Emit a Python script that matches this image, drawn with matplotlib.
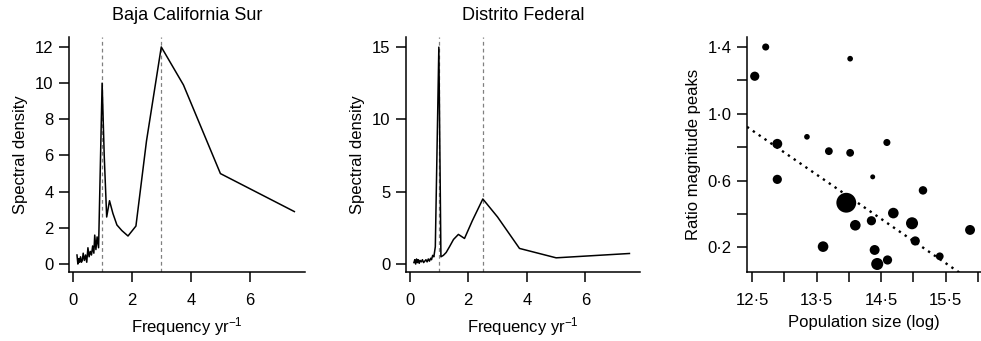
import numpy as np
import matplotlib
matplotlib.use("Agg")
import matplotlib.pyplot as plt
from matplotlib.ticker import FixedLocator, NullFormatter

plt.rcParams['font.family'] = ['Liberation Sans', 'DejaVu Sans']
plt.rcParams['mathtext.default'] = 'regular'

# spectral density, frequency in cycles per year
freq = [0.15, 0.18, 0.21, 0.24, 0.27, 0.30, 0.33, 0.36, 0.40, 0.44, 0.48,
        0.52, 0.56, 0.60, 0.64, 0.68, 0.72, 0.75, 0.79, 0.83, 0.88,
        1.0, 1.071, 1.154, 1.25, 1.364, 1.5, 1.667, 1.875, 2.143, 2.5,
        3.0, 3.75, 5.0, 7.5]
bcs = [0.5, 0.0, 0.3, 0.1, 0.4, 0.1, 0.2, 0.6, 0.2, 0.5, 0.1,
       0.9, 0.4, 0.7, 0.5, 1.0, 0.6, 1.6, 0.8, 1.5, 0.9,
       10.0, 6.0, 2.6, 3.5, 2.8, 2.16, 1.85, 1.55, 2.1, 6.8,
       12.0, 9.9, 5.0, 2.9]
df = [0.1, 0.3, 0.0, 0.35, 0.1, 0.3, 0.05, 0.25, 0.15, 0.3, 0.1,
      0.2, 0.3, 0.15, 0.35, 0.2, 0.4, 0.3, 0.6, 0.5, 1.2,
      15.0, 0.5, 0.6, 0.8, 1.2, 1.7, 2.05, 1.77, 3.0, 4.5,
      3.26, 1.08, 0.43, 0.73]
bcs_peaks = [1.0, 3.0]
df_peaks = [1.0, 2.5]

# ratio of peak magnitudes vs log population size
pop_log = [12.54, 12.71, 14.02, 12.89, 12.89, 13.35, 13.69, 14.02, 14.59, 14.37,
           13.96, 15.15, 14.69, 14.10, 14.35, 14.98, 15.88, 13.60, 15.03, 14.40,
           15.41, 14.44, 14.60]
ratio = [1.225, 1.40, 1.33, 0.82, 0.607, 0.862, 0.776, 0.766, 0.828, 0.622,
         0.467, 0.541, 0.405, 0.332, 0.359, 0.344, 0.304, 0.204, 0.238, 0.184,
         0.146, 0.10, 0.124]
weight = [13, 10, 8, 14, 13, 8, 11, 11, 10, 7,
          28, 12, 15, 15, 13, 17, 14, 15, 13, 14,
          11, 17, 13]
fit_intercept = 4.213
fit_slope = -0.265

W, H = 981, 341
fig = plt.figure(figsize=(W / 100, H / 100), dpi=100)


def make_ax(left, right, top=37, bottom=272):
    ax = fig.add_axes([left / W, 1 - bottom / H, (right - left) / W, (bottom - top) / H])
    for s in ['top', 'right']:
        ax.spines[s].set_visible(False)
    for s in ['left', 'bottom']:
        ax.spines[s].set_linewidth(1.1)
    ax.tick_params(which='both', length=7, width=1.1, labelsize=12)
    ax.tick_params(axis='x', which='both', pad=8)
    ax.tick_params(axis='y', which='both', pad=4)
    return ax


def spectrum(ax, y, peaks, ylim, yticks, title):
    for p in peaks:
        ax.axvline(p, color='#808080', lw=0.9, ls=(0, (3, 2.5)))
    ax.plot(freq, y, color='black', lw=1.1)
    ax.set_xlim(-0.12, 7.86)
    ax.set_ylim(*ylim)
    ax.set_xticks([0, 2, 4, 6])
    ax.set_yticks(yticks)
    ax.set_xlabel('Frequency yr$^{-1}$', fontsize=12, labelpad=5)
    ax.set_ylabel('Spectral density', fontsize=12, labelpad=5)
    ax.set_title(title, fontsize=13, pad=12)


ax1 = make_ax(69, 305)
spectrum(ax1, bcs, bcs_peaks, (-0.44, 12.55), [0, 2, 4, 6, 8, 10, 12], 'Baja California Sur')

ax2 = make_ax(406, 640)
spectrum(ax2, df, df_peaks, (-0.55, 15.7), [0, 5, 10, 15], 'Distrito Federal')

ax3 = make_ax(747, 981)
ax3.scatter(pop_log, ratio, s=np.array(weight) ** 2 * 0.26, color='black', edgecolors='none')
xs = np.array([12.42, 16.05])
ax3.plot(xs, fit_intercept + fit_slope * xs, color='black', lw=1.7, ls=(0, (1, 2.0)))
ax3.set_xlim(12.42, 16.05)
ax3.set_ylim(0.052, 1.46)
ax3.set_xticks([12.5, 13.5, 14.5, 15.5])
ax3.set_xticklabels(['12·5', '13·5', '14·5', '15·5'])
ax3.xaxis.set_minor_locator(FixedLocator([13.0, 14.0, 15.0, 16.0]))
ax3.xaxis.set_minor_formatter(NullFormatter())
ax3.set_yticks([0.2, 0.6, 1.0, 1.4])
ax3.set_yticklabels(['0·2', '0·6', '1·0', '1·4'])
ax3.yaxis.set_minor_locator(FixedLocator([0.4, 0.8, 1.2]))
ax3.yaxis.set_minor_formatter(NullFormatter())
ax3.set_xlabel('Population size (log)', fontsize=12, labelpad=5)
ax3.set_ylabel('Ratio magnitude peaks', fontsize=12, labelpad=5)

fig.savefig('out.png', dpi=100)
